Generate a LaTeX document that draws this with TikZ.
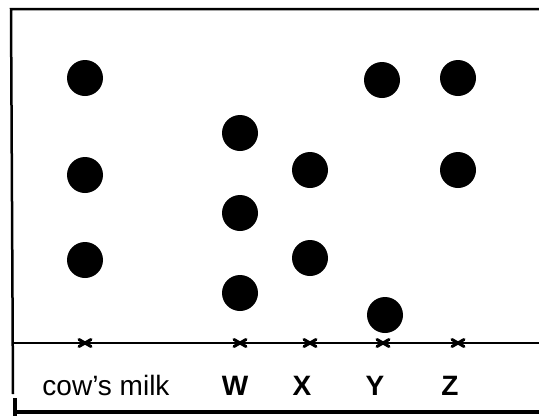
\documentclass[tikz,border=0pt]{standalone}
\usepackage{fontspec}
\setmainfont{Liberation Sans}
\begin{document}
\begin{tikzpicture}[x=1pt,y=-1pt,
  spot/.style={circle,fill=black,inner sep=0pt,minimum width=35pt,minimum height=36pt},
  lbl/.style={inner sep=0pt,anchor=base,font=\fontsize{28}{28}\selectfont},
  cross/.style={line width=3pt,line cap=round}]
\useasboundingbox (0,0) rectangle (539,416);
% frame
\draw[line width=2.5pt] (540,9) -- (11,9) -- (13,394);
\draw[line width=4.5pt] (15,398) -- (15,416);
\draw[line width=3.5pt] (14,412) -- (540,412);
% baseline
\coordinate (bl) at (14,343);
\coordinate (br) at (540,343);
\draw[line width=2pt] (bl) -- (br);
% origin marks
\foreach \n/\x in {c/85,w/240,x/310,y/383,z/458}{
  \coordinate (o\n) at (\x,343);
  \draw[cross] ([shift={(-6,-3.5)}]o\n) -- ([shift={(6,3.5)}]o\n);
  \draw[cross] ([shift={(-6,3.5)}]o\n) -- ([shift={(6,-3.5)}]o\n);
}
% spots
\node[spot] (c1) at (85,78) {};
\node[spot] (c2) at (85,175) {};
\node[spot] (c3) at (85,260) {};
\node[spot] (w1) at (240,133) {};
\node[spot] (w2) at (240,213) {};
\node[spot] (w3) at (240,293) {};
\node[spot] (x1) at (310,170) {};
\node[spot] (x2) at (310,258) {};
\node[spot] (y1) at (382,80) {};
\node[spot] (y2) at (385,315) {};
\node[spot] (z1) at (458,78) {};
\node[spot] (z2) at (458,170) {};
% labels
\node[lbl] (lc) at (106,395) {cow’s milk};
\node[lbl] (lw) at (235,395) {\bfseries W};
\node[lbl] (lx) at (302,395) {\bfseries X};
\node[lbl] (ly) at (375,395) {\bfseries Y};
\node[lbl] (lz) at (450,395) {\bfseries Z};
\end{tikzpicture}
\end{document}
